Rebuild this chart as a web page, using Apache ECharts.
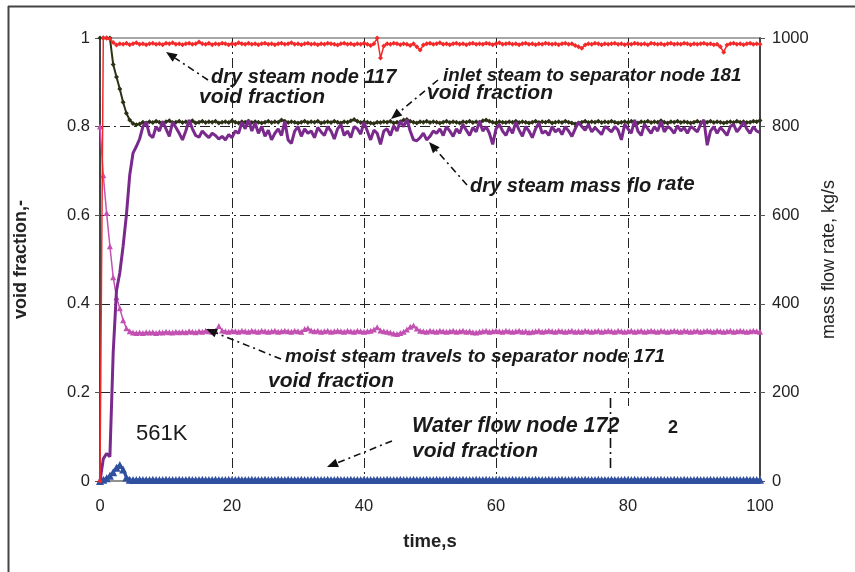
<!DOCTYPE html>
<html>
<head>
<meta charset="utf-8">
<script src="https://cdn.jsdelivr.net/npm/echarts@6/dist/echarts.min.js"></script>
<style>html,body{margin:0;padding:0;background:#fff}#c{width:855px;height:572px}</style>
</head>
<body>
<div id="c"></div>
<script>
const time = [0,0.5,1,1.5,2,2.5,3,3.5,4,4.5,5,5.5,6,6.5,7,7.5,8,8.5,9,9.5,10,10.5,11,11.5,12,12.5,13,13.5,14,14.5,15,15.5,16,16.5,17,17.5,18,18.5,19,19.5,20,20.5,21,21.5,22,22.5,23,23.5,24,24.5,25,25.5,26,26.5,27,27.5,28,28.5,29,29.5,30,30.5,31,31.5,32,32.5,33,33.5,34,34.5,35,35.5,36,36.5,37,37.5,38,38.5,39,39.5,40,40.5,41,41.5,42,42.5,43,43.5,44,44.5,45,45.5,46,46.5,47,47.5,48,48.5,49,49.5,50,50.5,51,51.5,52,52.5,53,53.5,54,54.5,55,55.5,56,56.5,57,57.5,58,58.5,59,59.5,60,60.5,61,61.5,62,62.5,63,63.5,64,64.5,65,65.5,66,66.5,67,67.5,68,68.5,69,69.5,70,70.5,71,71.5,72,72.5,73,73.5,74,74.5,75,75.5,76,76.5,77,77.5,78,78.5,79,79.5,80,80.5,81,81.5,82,82.5,83,83.5,84,84.5,85,85.5,86,86.5,87,87.5,88,88.5,89,89.5,90,90.5,91,91.5,92,92.5,93,93.5,94,94.5,95,95.5,96,96.5,97,97.5,98,98.5,99,99.5,100];

// dry steam node 117 void fraction (left axis)
const dryVoid = [0,1.0,1.0,0.998,0.99,
0.984,0.987,0.986,0.988,0.985,0.987,0.989,0.986,0.987,0.985,
0.987,0.988,0.986,0.987,0.985,0.988,0.987,0.989,0.986,0.987,
0.985,0.987,0.988,0.986,0.987,0.991,0.987,0.986,0.988,0.985,
0.987,0.986,0.988,0.987,0.985,0.987,0.986,0.989,0.987,0.986,
0.988,0.986,0.987,0.985,0.987,0.988,0.986,0.987,0.985,0.987,
0.988,0.986,0.987,0.989,0.986,0.987,0.985,0.987,0.988,0.986,
0.987,0.985,0.987,0.986,0.988,0.987,0.986,0.984,0.987,0.988,
0.986,0.987,0.985,0.987,0.986,0.988,0.986,0.983,0.987,1.0,
0.955,0.982,0.987,0.986,0.988,0.987,0.985,0.987,0.986,0.983,
0.987,0.98,0.973,0.984,0.987,0.988,0.986,0.987,0.989,0.986,
0.987,0.985,0.987,0.988,0.986,0.987,0.985,0.987,0.988,0.986,
0.987,0.986,0.988,0.987,0.985,0.987,0.989,0.986,0.987,0.988,
0.986,0.987,0.985,0.987,0.988,0.986,0.987,0.985,0.987,0.986,
0.988,0.987,0.986,0.987,0.985,0.987,0.988,0.986,0.987,0.983,
0.98,0.977,0.984,0.987,0.986,0.988,0.987,0.985,0.987,0.986,
0.987,0.988,0.986,0.987,0.985,0.987,0.986,0.988,0.987,0.986,
0.987,0.985,0.988,0.987,0.986,0.987,0.985,0.987,0.988,0.986,
0.987,0.986,0.988,0.987,0.985,0.987,0.986,0.987,0.988,0.986,
0.987,0.985,0.986,0.98,0.968,0.984,0.987,0.988,0.986,0.987,
0.985,0.987,0.988,0.986,0.987,0.986];

// inlet steam to separator node 181 void fraction (left axis)
const inletVoid = [1.0,1.0,1.0,1.0,0.94,
0.912,0.885,0.855,0.83,0.815,0.807,0.804,0.806,0.81,0.808,
0.811,0.809,0.812,0.81,0.808,0.811,0.813,0.809,0.81,0.812,
0.809,0.811,0.81,0.813,0.808,0.81,0.812,0.809,0.811,0.81,
0.812,0.808,0.81,0.811,0.809,0.813,0.81,0.808,0.811,0.81,
0.812,0.809,0.811,0.81,0.808,0.81,0.812,0.809,0.811,0.81,
0.815,0.812,0.809,0.811,0.81,0.808,0.81,0.812,0.809,0.811,
0.81,0.812,0.808,0.81,0.811,0.809,0.812,0.81,0.808,0.811,
0.81,0.813,0.816,0.812,0.809,0.811,0.81,0.808,0.807,0.81,
0.809,0.811,0.81,0.812,0.808,0.81,0.811,0.815,0.816,0.812,
0.81,0.808,0.811,0.81,0.812,0.809,0.811,0.81,0.808,0.81,
0.812,0.809,0.811,0.81,0.808,0.811,0.81,0.812,0.809,0.811,
0.81,0.813,0.815,0.812,0.81,0.808,0.811,0.81,0.809,0.811,
0.81,0.812,0.809,0.811,0.81,0.808,0.81,0.812,0.809,0.811,
0.81,0.812,0.808,0.81,0.811,0.809,0.812,0.81,0.808,0.806,
0.808,0.81,0.812,0.809,0.811,0.81,0.812,0.809,0.811,0.81,
0.812,0.81,0.808,0.81,0.811,0.809,0.812,0.81,0.808,0.811,
0.81,0.812,0.809,0.811,0.81,0.813,0.81,0.808,0.811,0.81,
0.812,0.809,0.811,0.81,0.808,0.81,0.812,0.809,0.811,0.81,
0.812,0.809,0.811,0.81,0.808,0.81,0.811,0.809,0.812,0.81,
0.811,0.809,0.81,0.812,0.811,0.814];

// dry steam mass flow rate, kg/s (right axis)
const dryFlow = [0,50,62,55,290,
430,470,530,600,690,740,755,772,800,810,
782,775,800,790,812,795,778,810,798,785,
770,790,815,795,780,776,790,782,775,785,
780,772,778,770,782,775,790,785,810,795,
815,790,808,785,800,778,792,770,785,795,
780,812,770,762,790,800,778,795,785,790,
775,798,788,780,800,790,772,795,805,780,
790,775,800,795,783,810,790,770,792,785,
760,790,795,780,802,790,812,800,816,790,
770,768,775,785,770,778,790,785,795,780,
800,790,778,795,785,805,792,780,798,788,
812,790,800,785,760,795,805,790,780,798,
785,810,792,778,800,790,775,795,808,785,
790,780,800,788,795,782,800,790,778,795,
810,800,792,805,788,798,790,782,800,795,
788,800,792,770,805,795,785,815,790,780,
805,795,785,800,790,812,788,800,795,785,
802,790,798,785,800,795,788,805,815,758,
790,800,785,798,790,780,800,805,788,798,
810,795,785,800,790,786];

// moist steam travels to separator node 171 void fraction (left axis)
const moistVoid = [0.80,0.69,0.605,0.53,0.46,
0.415,0.39,0.363,0.345,0.338,0.335,0.334,0.335,0.334,0.336,
0.335,0.336,0.334,0.336,0.335,0.337,0.336,0.335,0.337,0.336,
0.337,0.336,0.338,0.337,0.336,0.338,0.337,0.339,0.338,0.337,
0.339,0.35,0.34,0.338,0.337,0.339,0.338,0.337,0.339,0.338,
0.337,0.339,0.338,0.337,0.339,0.338,0.337,0.338,0.339,0.337,
0.338,0.339,0.338,0.337,0.339,0.338,0.337,0.343,0.345,0.34,
0.338,0.339,0.337,0.338,0.339,0.337,0.338,0.339,0.338,0.337,
0.339,0.338,0.337,0.339,0.338,0.337,0.338,0.339,0.342,0.347,
0.34,0.338,0.337,0.335,0.333,0.332,0.334,0.337,0.342,0.348,
0.351,0.344,0.339,0.338,0.337,0.339,0.338,0.337,0.339,0.338,
0.337,0.338,0.339,0.337,0.338,0.339,0.337,0.338,0.336,0.335,
0.337,0.338,0.339,0.337,0.338,0.339,0.338,0.337,0.339,0.338,
0.337,0.338,0.339,0.337,0.338,0.336,0.337,0.338,0.339,0.337,
0.338,0.339,0.338,0.337,0.339,0.338,0.337,0.338,0.339,0.337,
0.338,0.337,0.339,0.338,0.337,0.338,0.339,0.337,0.338,0.339,
0.338,0.337,0.339,0.338,0.337,0.338,0.339,0.337,0.338,0.339,
0.337,0.338,0.339,0.338,0.337,0.339,0.338,0.337,0.338,0.339,
0.338,0.337,0.339,0.338,0.337,0.338,0.339,0.337,0.338,0.339,
0.338,0.337,0.339,0.338,0.337,0.338,0.339,0.337,0.338,0.339,
0.338,0.337,0.338,0.339,0.338,0.337];

// Water flow node 172 void fraction (left axis)
const waterVoid = [0,0.003,0.006,0.012,0.02,
0.03,0.036,0.026,0.008,0.003,0.002,0.002,0.003,0.002,0.002,
0.002,0.003,0.002,0.002,0.002,0.003,0.002,0.002,0.002,0.003,
0.002,0.002,0.003,0.002,0.002,0.002,0.003,0.002,0.002,0.002,
0.003,0.002,0.002,0.002,0.003,0.002,0.002,0.003,0.002,0.002,
0.002,0.003,0.002,0.002,0.002,0.003,0.002,0.002,0.002,0.003,
0.002,0.002,0.003,0.002,0.002,0.002,0.003,0.002,0.002,0.002,
0.003,0.002,0.002,0.002,0.003,0.002,0.002,0.003,0.002,0.002,
0.002,0.003,0.002,0.002,0.002,0.003,0.002,0.002,0.002,0.003,
0.002,0.002,0.003,0.002,0.002,0.002,0.003,0.002,0.002,0.002,
0.003,0.002,0.002,0.002,0.003,0.002,0.002,0.003,0.002,0.002,
0.002,0.003,0.002,0.002,0.002,0.003,0.002,0.002,0.002,0.003,
0.002,0.002,0.003,0.002,0.002,0.002,0.003,0.002,0.002,0.002,
0.003,0.002,0.002,0.002,0.003,0.002,0.002,0.003,0.002,0.002,
0.002,0.003,0.002,0.002,0.002,0.003,0.002,0.002,0.002,0.003,
0.002,0.002,0.003,0.002,0.002,0.002,0.003,0.002,0.002,0.002,
0.003,0.002,0.002,0.002,0.003,0.002,0.002,0.003,0.002,0.002,
0.002,0.003,0.002,0.002,0.002,0.003,0.002,0.002,0.002,0.003,
0.002,0.002,0.003,0.002,0.002,0.002,0.003,0.002,0.002,0.002,
0.003,0.002,0.002,0.002,0.003,0.002,0.002,0.003,0.002,0.002,
0.002,0.003,0.002,0.002,0.002,0.003];

const xTicks = {min: 0, max: 100, interval: 20};
const leftTicks = {min: 0, max: 1, interval: 0.2};
const rightTicks = {min: 0, max: 1000, interval: 200};

const pairs = v => time.map((t, i) => [t, v[i]]);

const FONT = '"Liberation Sans", Arial, sans-serif';
const chart = echarts.init(document.getElementById('c'), null, {renderer: 'canvas'});

const dashDot = [10, 4, 2, 4];

function arrow(x1, y1, x2, y2) {
  const dx = x2 - x1, dy = y2 - y1, L = Math.hypot(dx, dy);
  const ux = dx / L, uy = dy / L, al = 11, aw = 4.5;
  const bx = x2 - ux * al, by = y2 - uy * al;
  return [
    {type: 'line', z: 60, shape: {x1, y1, x2: bx, y2: by},
     style: {stroke: '#111', lineWidth: 1.6, lineDash: [7, 4, 2, 4]}},
    {type: 'polygon', z: 60, shape: {points: [[x2, y2], [bx - uy * aw, by + ux * aw], [bx + uy * aw, by - ux * aw]]},
     style: {fill: '#111'}}
  ];
}
function label(text, x, y, size, weight, italic) {
  return {type: 'text', z: 100, style: {text, x, y, fill: '#1a1a1a', verticalAlign: 'middle',
    font: (italic ? 'italic ' : '') + (weight || 'bold') + ' ' + size + 'px ' + FONT}};
}

const graphics = [
  {type: 'line', z: 5, shape: {x1: 8.5, y1: 6, x2: 8.5, y2: 572}, style: {stroke: '#444', lineWidth: 2}},
  {type: 'line', z: 5, shape: {x1: 8, y1: 6.5, x2: 855, y2: 6.5}, style: {stroke: '#444', lineWidth: 2}},
  {type: 'rect', z: 40, shape: {x: 619, y: 406, width: 18, height: 69}, style: {fill: '#fff'}},
  {type: 'line', z: 60, shape: {x1: 610.5, y1: 398, x2: 610.5, y2: 472}, style: {stroke: '#111', lineWidth: 1.6, lineDash: [10, 4, 2, 4]}},
  ...arrow(208, 80, 166, 52),
  ...arrow(438, 80, 391, 119),
  ...arrow(467, 185, 429, 142),
  ...arrow(281, 359, 206, 329),
  ...arrow(392, 441, 327, 467),
  label('dry steam node 117', 211, 77, 20, 'bold', true),
  label('void fraction', 199, 97, 21, 'bold', true),
  label('inlet steam to separator node 181', 443, 76, 18.8, 'bold', true),
  label('void fraction', 427, 93, 21, 'bold', true),
  label('dry steam mass flo', 470, 186, 20, 'bold', true),
  label('rate', 657, 184, 20.5, 'bold', true),
  label('moist steam travels to separator node 171', 285, 357, 19, 'bold', true),
  label('void fraction', 268, 381, 21, 'bold', true),
  label('Water flow node 172', 412, 426, 21.5, 'bold', true),
  label('2', 668, 428, 18, 'bold', false),
  label('void fraction', 412, 451, 21, 'bold', true),
  label('561K', 136, 434, 22, 'normal', false)
];

const lens = [dryVoid, inletVoid, dryFlow, moistVoid, waterVoid].map(a => a.length);
if (lens.some(l => l !== time.length)) {
  graphics.push({type: 'text', z: 200, style: {text: 'LEN ' + time.length + ' ' + lens.join(','), x: 300, y: 260, fill: 'red', font: 'bold 20px sans-serif'}});
}

const axisLabel = {fontFamily: FONT, fontSize: 16.5, color: '#222'};

chart.setOption({
  animation: false,
  backgroundColor: '#fff',
  grid: {left: 100, right: 95, top: 38, bottom: 91, show: true, borderColor: '#8a8a8a', borderWidth: 1.5, backgroundColor: 'transparent'},
  xAxis: {
    type: 'value', min: xTicks.min, max: xTicks.max, interval: xTicks.interval,
    name: 'time,s', nameLocation: 'middle', nameGap: 51,
    nameTextStyle: {fontFamily: FONT, fontSize: 18.5, fontWeight: 'bold', color: '#222'},
    axisLine: {lineStyle: {color: '#8a8a8a', width: 1.5}},
    axisTick: {inside: true, length: 5, lineStyle: {color: '#999'}},
    axisLabel: Object.assign({margin: 17}, axisLabel),
    splitLine: {show: true, showMinLine: false, showMaxLine: false, lineStyle: {color: '#222', width: 1, type: dashDot}}
  },
  yAxis: [{
    type: 'value', position: 'left', min: leftTicks.min, max: leftTicks.max, interval: leftTicks.interval,
    name: 'void fraction,-', nameLocation: 'middle', nameGap: 70, nameRotate: 90,
    nameTextStyle: {fontFamily: FONT, fontSize: 18, fontWeight: 'bold', color: '#222'},
    axisLine: {show: true, lineStyle: {color: '#222', width: 1.5}},
    axisTick: {show: true, inside: false, length: 5, lineStyle: {color: '#555'}},
    axisLabel: Object.assign({margin: 10}, axisLabel),
    splitLine: {show: true, showMinLine: false, showMaxLine: false, lineStyle: {color: '#222', width: 1, type: dashDot}}
  }, {
    type: 'value', position: 'right', min: rightTicks.min, max: rightTicks.max, interval: rightTicks.interval,
    name: 'mass flow rate, kg/s', nameLocation: 'middle', nameGap: 54, nameRotate: 90,
    nameTextStyle: {fontFamily: FONT, fontSize: 18, fontWeight: 'normal', color: '#222'},
    axisLine: {show: true, lineStyle: {color: '#222', width: 1.5}},
    axisTick: {show: true, inside: false, length: 5, lineStyle: {color: '#555'}},
    axisLabel: Object.assign({margin: 12, formatter: v => String(v)}, axisLabel),
    splitLine: {show: false}
  }],
  series: [
    {name: 'Water flow node 172 void fraction', type: 'line', yAxisIndex: 0, data: pairs(waterVoid),
     symbol: 'triangle', symbolSize: 8, showAllSymbol: true,
     lineStyle: {color: '#2f4f9f', width: 3}, itemStyle: {color: '#2f4f9f'}, z: 2},
    {name: 'moist steam travels to separator node 171 void fraction', type: 'line', yAxisIndex: 0, data: pairs(moistVoid),
     symbol: 'triangle', symbolSize: 6, showAllSymbol: true,
     lineStyle: {color: '#c251b2', width: 1.5}, itemStyle: {color: '#c251b2'}, z: 3},
    {name: 'inlet steam to separator node 181 void fraction', type: 'line', yAxisIndex: 0, data: pairs(inletVoid),
     symbol: 'diamond', symbolSize: 5, showAllSymbol: true,
     lineStyle: {color: '#2d3216', width: 2}, itemStyle: {color: '#2d3216'}, z: 4},
    {name: 'dry steam mass flow rate', type: 'line', yAxisIndex: 1, data: pairs(dryFlow),
     symbol: 'none', lineStyle: {color: '#7a2a8c', width: 3}, z: 5},
    {name: 'dry steam node 117 void fraction', type: 'line', yAxisIndex: 0, data: pairs(dryVoid),
     symbol: 'diamond', symbolSize: 5, showAllSymbol: true,
     lineStyle: {color: '#f42a2a', width: 1.5}, itemStyle: {color: '#f42a2a'}, z: 6}
  ],
  graphic: {elements: graphics}
});
</script>
</body>
</html>
